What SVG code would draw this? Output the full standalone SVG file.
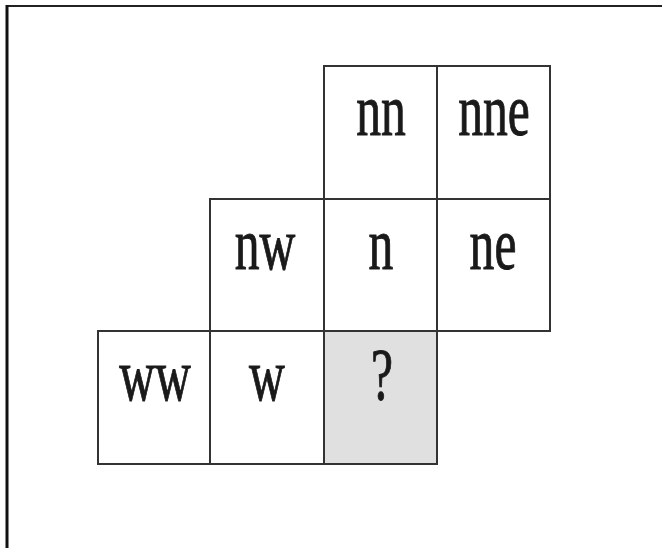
<svg xmlns="http://www.w3.org/2000/svg" width="662" height="548" viewBox="0 0 662 548">
<style>
.cell{fill:#ffffff;stroke:#333333;stroke-width:2}
.q{fill:#e0e0e0}
.lbl{font-family:"Liberation Serif","Times New Roman",serif;font-size:74px;fill:#1a1a1a;stroke:#1a1a1a;stroke-width:1;text-anchor:middle}
</style>
<rect x="0" y="0" width="662" height="548" fill="#ffffff"/>
<line x1="6" y1="6" x2="662" y2="6" stroke="#222222" stroke-width="2.2"/>
<line x1="7" y1="5" x2="7" y2="548" stroke="#111111" stroke-width="3"/>
<g id="nn"><rect class="cell" x="324" y="66" width="113" height="133"/><text class="lbl" transform="translate(381,135) scale(0.67,1)">nn</text></g>
<g id="nne"><rect class="cell" x="437" y="66" width="113" height="133"/><text class="lbl" transform="translate(494,135) scale(0.67,1)">nne</text></g>
<g id="nw"><rect class="cell" x="210" y="199" width="114" height="132"/><text class="lbl" transform="translate(265,269) scale(0.67,1)">nw</text></g>
<g id="n"><rect class="cell" x="324" y="199" width="113" height="132"/><text class="lbl" transform="translate(381,269) scale(0.67,1)">n</text></g>
<g id="ne"><rect class="cell" x="437" y="199" width="113" height="132"/><text class="lbl" transform="translate(493,269) scale(0.67,1)">ne</text></g>
<g id="ww"><rect class="cell" x="98" y="331" width="112" height="133"/><text class="lbl" transform="translate(155,400) scale(0.67,1)">ww</text></g>
<g id="w"><rect class="cell" x="210" y="331" width="114" height="133"/><text class="lbl" transform="translate(267,400) scale(0.67,1)">w</text></g>
<g id="q"><rect class="cell q" x="324" y="331" width="113" height="133"/><text class="lbl" transform="translate(382,400) scale(0.67,1)">?</text></g>
<g id="connectors"></g>
</svg>
